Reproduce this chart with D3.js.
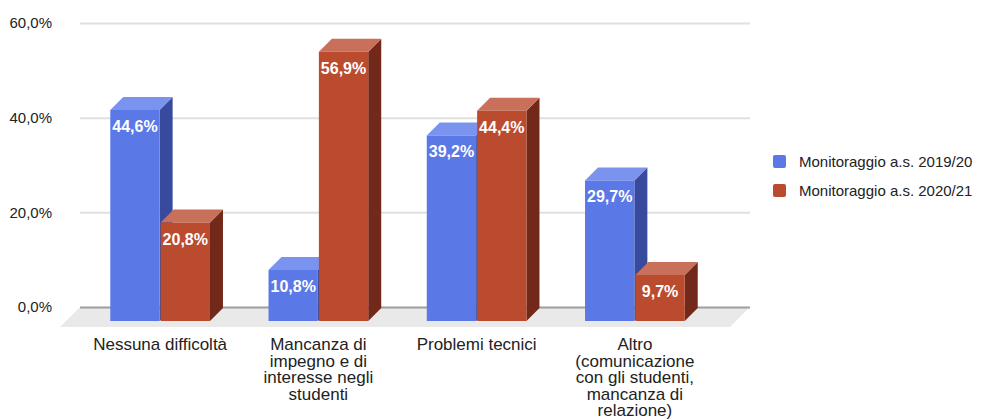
<!DOCTYPE html>
<html>
<head>
<meta charset="utf-8">
<script src="https://cdn.jsdelivr.net/npm/d3@7"></script>
<style>
  body { margin: 0; background: #fff; }
  text { font-family: Arial, "Liberation Sans", sans-serif; }
</style>
</head>
<body>
<div id="chart"></div>
<script>
var categories = [
  "Nessuna difficoltà",
  "Mancanza di impegno e di interesse negli studenti",
  "Problemi tecnici",
  "Altro (comunicazione con gli studenti, mancanza di relazione)"
];
var categoryLines = [
  ["Nessuna difficoltà"],
  ["Mancanza di", "impegno e di", "interesse negli", "studenti"],
  ["Problemi tecnici"],
  ["Altro", "(comunicazione", "con gli studenti,", "mancanza di", "relazione)"]
];
var seriesNames = ["Monitoraggio a.s. 2019/20", "Monitoraggio a.s. 2020/21"];
var values2019 = [44.6, 10.8, 39.2, 29.7];
var values2020 = [20.8, 56.9, 44.4, 9.7];
var yTicks = [0, 20, 40, 60];

var width = 997, height = 419;

// colours: front, top, side
var palette = [
  { front: "#5b78e7", top: "#7a93ee", side: "#384a9d" },
  { front: "#bb4b2e", top: "#c9705a", side: "#72291a" }
];

var it = d3.formatLocale({ decimal: ",", thousands: ".", grouping: [3], currency: ["", "€"] });
var pct = function(v) { return it.format(".1f")(v) + "%"; };

var svg = d3.select("#chart").append("svg")
  .attr("width", width)
  .attr("height", height);

var wallLeft = 80, wallRight = 750;
var floorDepth = 20, d0 = 1, d1 = 14;

var y = d3.scaleLinear().domain([0, 60]).range([307, 23]);

var x0 = d3.scaleBand()
  .domain(categories)
  .range([95, 728])
  .paddingInner(0.37)
  .paddingOuter(0.185);

var x1 = d3.scaleBand()
  .domain(seriesNames)
  .range([0, x0.bandwidth()])
  .paddingInner(0.02);

// point at depth d (0 = back wall)
function P(px, py, d) { return [px - d, py + d]; }

// floor
svg.append("polygon")
  .attr("points", [P(wallLeft, y(0), 0), P(wallRight, y(0), 0), P(wallRight, y(0), floorDepth), P(wallLeft, y(0), floorDepth)].join(" "))
  .attr("fill", "#e9e9e9");

// y axis + gridlines
var yAxis = d3.axisLeft(y)
  .tickValues(yTicks)
  .tickFormat(pct)
  .tickSize(-(wallRight - wallLeft))
  .tickPadding(28);

var gy = svg.append("g")
  .attr("transform", "translate(" + wallLeft + ",0)")
  .call(yAxis);
gy.select(".domain").remove();
gy.selectAll(".tick line")
  .attr("stroke", function(d) { return d === 0 ? "#9e9e9e" : "#e0e0e0"; })
  .attr("stroke-width", 2);
gy.selectAll(".tick text")
  .attr("fill", "#222")
  .style("font-size", "15px");

// bars
var rows = categories.map(function(c, i) {
  return { cat: c, vals: [values2019[i], values2020[i]] };
});

rows.forEach(function(row) {
  row.vals.forEach(function(v, s) {
    var xl = x0(row.cat) + x1(seriesNames[s]);
    var xr = xl + x1.bandwidth();
    var yt = y(v), yb = y(0);
    var g = svg.append("g");
    g.append("polygon")
      .attr("points", [P(xr, yt, d0), P(xr, yb, d0), P(xr, yb, d1), P(xr, yt, d1)].join(" "))
      .attr("fill", palette[s].side);
    g.append("polygon")
      .attr("points", [P(xl, yt, d0), P(xr, yt, d0), P(xr, yt, d1), P(xl, yt, d1)].join(" "))
      .attr("fill", palette[s].top);
    g.append("polygon")
      .attr("points", [P(xl, yt, d1), P(xr, yt, d1), P(xr, yb, d1), P(xl, yb, d1)].join(" "))
      .attr("fill", palette[s].front);
    g.append("text")
      .attr("x", (xl + xr) / 2 - d1)
      .attr("y", yt + d1 + 22)
      .attr("text-anchor", "middle")
      .attr("fill", "#fff")
      .style("font-size", "16px")
      .style("font-weight", "bold")
      .text(pct(v));
  });
});

// category labels
var labels = svg.append("g").selectAll("text")
  .data(categories)
  .enter().append("text")
  .attr("text-anchor", "middle")
  .attr("fill", "#222")
  .style("font-size", "17px")
  .attr("transform", function(d) {
    return "translate(" + (x0(d) + x0.bandwidth() / 2 - d1) + ",350)";
  });

labels.selectAll("tspan")
  .data(function(d, i) { return categoryLines[i]; })
  .enter().append("tspan")
  .attr("x", 0)
  .attr("y", function(d, i) { return i * 16.5; })
  .text(function(d) { return d; });

// legend
var legend = svg.append("g").selectAll("g")
  .data(seriesNames)
  .enter().append("g")
  .attr("transform", function(d, i) { return "translate(773," + (155 + i * 29) + ")"; });

legend.append("rect")
  .attr("width", 13)
  .attr("height", 13)
  .attr("rx", 2)
  .attr("fill", function(d, i) { return palette[i].front; });

legend.append("text")
  .attr("x", 26)
  .attr("y", 12)
  .attr("fill", "#222")
  .style("font-size", "15px")
  .text(function(d) { return d; });
</script>
</body>
</html>
